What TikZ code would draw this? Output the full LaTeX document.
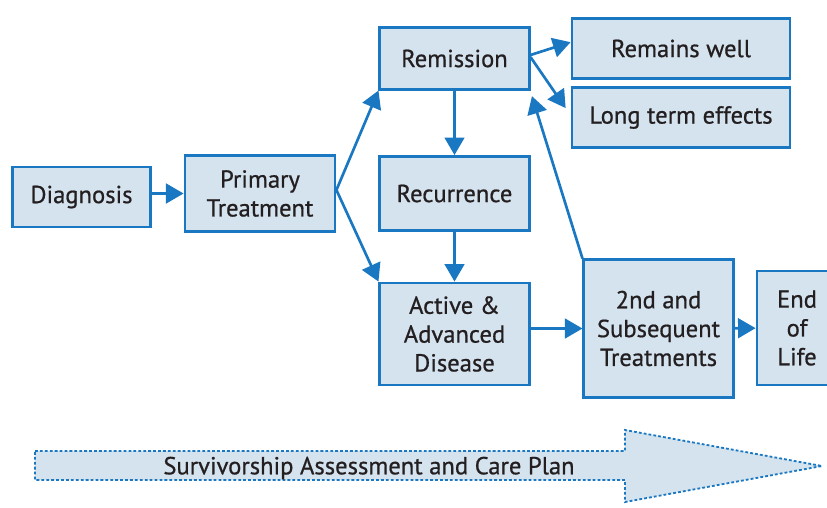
\documentclass[tikz,border=0pt]{standalone}
\usepackage{fontspec}
\setmainfont{PT Sans}[FakeBold=0.7]
\usepackage{tikz}
\usetikzlibrary{arrows.meta,positioning}
\definecolor{stageblue}{HTML}{1A78C2}
\definecolor{stagefill}{HTML}{D5E3EF}
\definecolor{stagetext}{HTML}{231F20}
\tikzset{
  stagenode/.style={rectangle,draw=stageblue,fill=stagefill,line width=2pt,align=center,inner sep=2pt,text=stagetext,font=\fontsize{17.5}{20.5}\selectfont},
  diredge/.style={-{Triangle[length=12.5pt,width=14pt]},line width=1.9pt,stageblue},
  planarrow/.style={draw=stageblue,fill=stagefill,line width=1.3pt,dash pattern=on 2pt off 1.5pt},
}

\begin{document}
\begin{tikzpicture}[x=0.025cm,y=-0.025cm]
  \useasboundingbox (0,0) rectangle (827,507);
  \node[stagenode,minimum width=3.43cm,minimum height=1.5cm] (nDiag) at (81.5,197) {Diagnosis};
  \node[stagenode,minimum width=3.75cm,minimum height=1.88cm] (nPrim) at (260,193.5) {Primary\\Treatment};
  \node[stagenode,minimum width=3.73cm,minimum height=1.53cm] (nRemi) at (454.5,58.5) {Remission};
  \node[stagenode,minimum width=3.73cm,minimum height=1.85cm] (nRecu) at (454.5,193.5) {Recurrence};
  \node[stagenode,minimum width=3.73cm,minimum height=2.55cm] (nActi) at (454.5,334) {Active \&\\Advanced\\Disease};
  \node[stagenode,minimum width=5.45cm,minimum height=1.48cm] (nWell) at (681,48.5) {Remains well};
  \node[stagenode,minimum width=5.45cm,minimum height=1.48cm] (nLong) at (681,117.5) {Long term effects};
  \node[stagenode,minimum width=3.73cm,minimum height=3.43cm] (nSubs) at (658.5,328.5) {2nd and\\Subsequent\\Treatments};
  \node[stagenode,minimum width=2.0cm,minimum height=2.85cm] (nEnd) at (797,328) {End\\of\\Life};
  \draw[diredge] (nDiag.east |- nPrim.west) -- (nPrim.west);
  \draw[diredge] ([yshift=2.5pt]nPrim.east) -- (nRemi.south west);
  \draw[diredge] ([yshift=2.5pt]nPrim.east) -- (nActi.north west);
  \draw[diredge] (nRemi) -- (nRecu);
  \draw[diredge] (nRecu) -- (nActi);
  \draw[diredge] ([yshift=2.5pt]nRemi.east) -- ([yshift=4.5pt]nWell.west);
  \draw[diredge] ([yshift=1pt]nRemi.east) -- ([xshift=-3.5pt,yshift=6.7pt]nLong.west);
  \draw[diredge] (nSubs.north west) -- ([xshift=1pt,yshift=-4pt]nRemi.south east);
  \draw[diredge] (nActi.east |- nSubs.west) -- (nSubs.west);
  \draw[diredge] (nSubs) -- (nEnd);
  % care plan arrow
  \draw[planarrow] (35,451) -- (625,451) -- (625,430) -- (822,466) -- (625,502) -- (625,480) -- (35,480) -- cycle;
  \node[text=stagetext,font=\fontsize{17.5}{20.5}\selectfont] (nPlan) at (369,468) {Survivorship Assessment and Care Plan};
\end{tikzpicture}
\end{document}
